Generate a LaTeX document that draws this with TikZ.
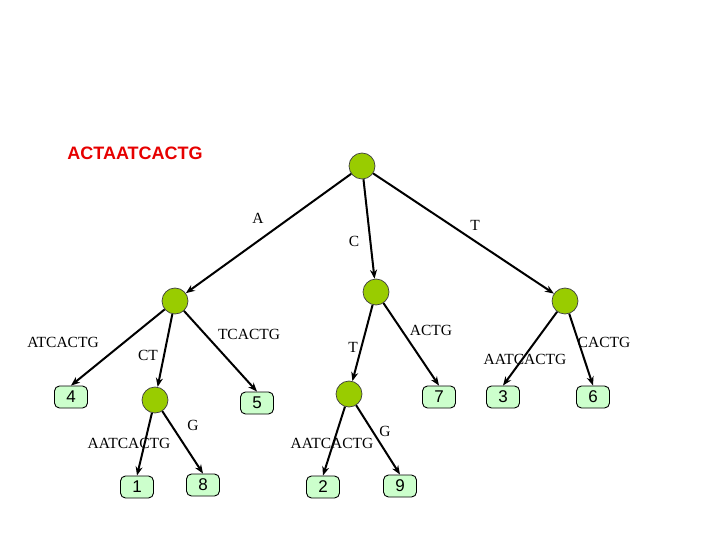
\documentclass[tikz,border=0pt]{standalone}
\usepackage{fontspec}
\setmainfont{Liberation Serif}
\newfontfamily\leaffont{Liberation Sans}
\usetikzlibrary{arrows.meta}
\definecolor{nodegreen}{RGB}{153,204,0}
\definecolor{leafgreen}{RGB}{204,255,204}
\definecolor{titlered}{RGB}{230,0,0}
\tikzset{
  inner/.style={circle,draw=black!75,line width=0.7pt,fill=nodegreen,minimum size=26pt,inner sep=0pt},
  leaf/.style={rectangle,rounded corners=5pt,draw=black,line width=0.9pt,fill=leafgreen,minimum width=33pt,minimum height=22pt,inner sep=0pt,font=\leaffont\fontsize{17}{17}\selectfont},
  edge/.style={draw,line width=2pt,-{Stealth[length=9pt,width=7pt]}},
  lab/.style={font=\fontsize{15.5}{15.5}\selectfont,inner sep=0pt}
}
\begin{document}
\begin{tikzpicture}[x=1pt,y=-1pt]
\useasboundingbox (0,0) rectangle (720,540);
\node[font=\leaffont\bfseries\fontsize{18}{18}\selectfont,text=titlered,inner sep=0pt] (title) at (135,153) {ACTAATCACTG};
% internal nodes
\node[inner] (root) at (362,166) {};
\node[inner] (nA) at (175,301) {};
\node[inner] (nC) at (376,292) {};
\node[inner] (nT) at (565,301) {};
\node[inner] (nCT) at (155,400) {};
\node[inner] (nCTT) at (349,394) {};
% leaves
\node[leaf] (l4) at (71,397) {4};
\node[leaf] (l5) at (257,403) {5};
\node[leaf] (l7) at (439,397) {7};
\node[leaf] (l3) at (503,397) {3};
\node[leaf] (l6) at (593,397) {6};
\node[leaf] (l1) at (137,487) {1};
\node[leaf] (l8) at (203,485) {8};
\node[leaf] (l2) at (323,487) {2};
\node[leaf] (l9) at (400,486) {9};
% edges
\draw[edge] (root) -- (nA);
\draw[edge] (root) -- (nC);
\draw[edge] (root) -- (nT);
\draw[edge] (nA) -- (l4.north);
\draw[edge] (nA) -- (nCT);
\draw[edge] (nA) -- (l5.north);
\draw[edge] (nC) -- (nCTT);
\draw[edge] (nC) -- (l7.north);
\draw[edge] (nT) -- (l3.north);
\draw[edge] (nT) -- (l6.north);
\draw[edge] (nCT) -- (l1.north);
\draw[edge] (nCT) -- (l8.north);
\draw[edge] (nCTT) -- (l2.north);
\draw[edge] (nCTT) -- (l9.north);
% labels
\node[lab] (tA) at (258,218) {A};
\node[lab] (tC) at (354,241) {C};
\node[lab] (tT) at (475,225) {T};
\node[lab] (tATCACTG) at (63,342) {ATCACTG};
\node[lab] (tCT) at (148,355) {CT};
\node[lab] (tTCACTG) at (249,334) {TCACTG};
\node[lab] (tT2) at (353,347) {T};
\node[lab] (tACTG) at (431,330) {ACTG};
\node[lab] (tAATC3) at (525,359) {AATCACTG};
\node[lab] (tCACTG) at (604,342) {CACTG};
\node[lab] (tG8) at (193,425) {G};
\node[lab] (tAATC1) at (129,443) {AATCACTG};
\node[lab] (tAATC2) at (332,443) {AATCACTG};
\node[lab] (tG9) at (385,431) {G};
\end{tikzpicture}
\end{document}
